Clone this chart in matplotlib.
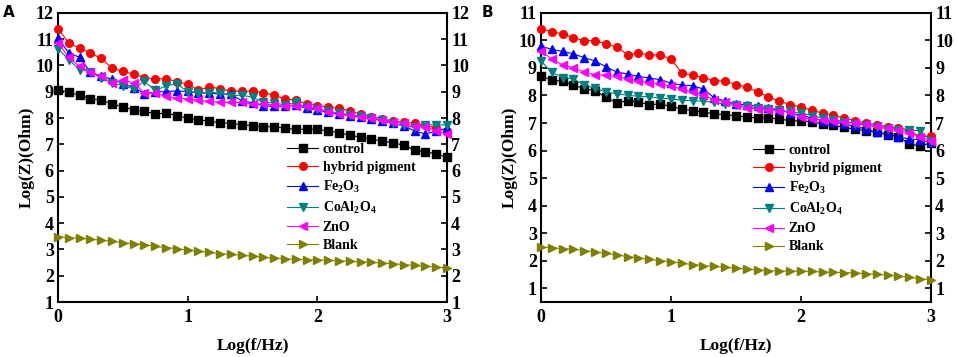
import numpy as np
import matplotlib
matplotlib.use('Agg')
import matplotlib.pyplot as plt

plt.rcParams['font.family'] = 'Liberation Serif'
plt.rcParams['font.weight'] = 'bold'
plt.rcParams['mathtext.default'] = 'regular'

logf = np.linspace(0, 3, 37)

labels = ['control', 'hybrid pigment', 'Fe$_2$O$_3$', 'CoAl$_2$O$_4$', 'ZnO', 'Blank']
colors = ['black', 'red', 'blue', '#008080', 'magenta', '#808000']
markers = ['s', 'o', '^', 'v', '<', '>']

# panel A
control_a = [9.07, 8.98, 8.87, 8.73, 8.68, 8.54, 8.42, 8.31, 8.26, 8.15, 8.19, 8.09, 7.99,
             7.93, 7.88, 7.82, 7.79, 7.75, 7.70, 7.67, 7.67, 7.61, 7.57, 7.57, 7.57, 7.51,
             7.44, 7.35, 7.27, 7.19, 7.13, 7.05, 6.97, 6.78, 6.71, 6.64, 6.50]
hybrid_a = [11.40, 10.85, 10.66, 10.47, 10.27, 9.90, 9.77, 9.67, 9.54, 9.48, 9.50, 9.38, 9.29,
            9.05, 9.19, 9.11, 9.03, 9.01, 9.01, 8.97, 8.86, 8.73, 8.68, 8.54, 8.47, 8.40,
            8.37, 8.27, 8.15, 8.05, 7.97, 7.89, 7.83, 7.80, 7.72, 7.62, 7.52]
fe2o3_a = [11.05, 10.47, 10.31, 9.75, 9.58, 9.48, 9.30, 9.16, 8.93, 8.98, 9.01, 9.03, 9.01,
           8.95, 8.95, 8.91, 8.91, 8.65, 8.58, 8.47, 8.44, 8.46, 8.50, 8.37, 8.31, 8.21,
           8.15, 8.09, 8.03, 7.97, 7.90, 7.80, 7.70, 7.51, 7.39, 7.50, 7.61]
coal2o4_a = [10.64, 10.22, 9.84, 9.75, 9.52, 9.33, 9.23, 9.11, 9.39, 9.05, 9.22, 9.30, 9.00,
             8.97, 8.97, 8.95, 8.85, 8.87, 8.79, 8.60, 8.57, 8.50, 8.59, 8.40, 8.33, 8.25,
             8.18, 8.13, 8.06, 8.00, 7.92, 7.80, 7.72, 7.65, 7.74, 7.74, 7.74]
zno_a = [10.85, 10.31, 9.96, 9.75, 9.58, 9.33, 9.45, 9.33, 8.95, 8.95, 8.82, 8.76, 8.73,
         8.67, 8.63, 8.60, 8.59, 8.59, 8.53, 8.53, 8.50, 8.47, 8.46, 8.44, 8.37, 8.24,
         8.15, 8.13, 8.05, 7.99, 7.93, 7.86, 7.80, 7.70, 7.65, 7.52, 7.38]
blank_a = [3.48, 3.45, 3.43, 3.39, 3.35, 3.31, 3.26, 3.22, 3.18, 3.12, 3.07, 3.03, 2.97,
           2.93, 2.89, 2.84, 2.81, 2.78, 2.74, 2.70, 2.67, 2.65, 2.62, 2.61, 2.60, 2.59,
           2.56, 2.55, 2.53, 2.51, 2.48, 2.46, 2.42, 2.39, 2.37, 2.33, 2.29]

# panel B
control_b = [8.69, 8.57, 8.51, 8.37, 8.25, 8.17, 7.93, 7.73, 7.81, 7.76, 7.67, 7.69, 7.60,
             7.51, 7.45, 7.40, 7.33, 7.30, 7.26, 7.22, 7.18, 7.18, 7.15, 7.08, 7.08, 7.04,
             6.97, 6.91, 6.84, 6.78, 6.72, 6.66, 6.57, 6.51, 6.24, 6.17, 6.28]
hybrid_b = [10.43, 10.31, 10.24, 10.09, 9.99, 9.99, 9.87, 9.75, 9.48, 9.54, 9.48, 9.46, 9.33,
            8.82, 8.73, 8.64, 8.54, 8.51, 8.39, 8.31, 8.13, 7.95, 7.79, 7.67, 7.58, 7.46,
            7.36, 7.28, 7.18, 7.08, 7.00, 6.93, 6.87, 6.82, 6.75, 6.48, 6.54]
fe2o3_b = [9.80, 9.67, 9.60, 9.51, 9.37, 9.25, 9.04, 8.85, 8.78, 8.69, 8.64, 8.57, 8.45,
           8.37, 8.36, 8.23, 7.91, 7.80, 7.68, 7.67, 7.60, 7.55, 7.48, 7.36, 7.28, 7.18,
           7.09, 7.04, 6.97, 6.88, 6.78, 6.66, 6.61, 6.49, 6.43, 6.38, 6.30]
coal2o4_b = [9.25, 8.84, 8.65, 8.60, 8.38, 8.26, 8.13, 8.06, 8.01, 7.97, 7.95, 7.90, 7.88,
             7.83, 7.81, 7.79, 7.75, 7.68, 7.64, 7.60, 7.55, 7.50, 7.47, 7.42, 7.35, 7.27,
             7.18, 7.12, 7.05, 6.98, 6.92, 6.85, 6.80, 6.76, 6.74, 6.72, 6.35]
zno_b = [9.62, 9.32, 9.11, 9.01, 8.85, 8.76, 8.73, 8.69, 8.61, 8.53, 8.47, 8.41, 8.35,
         8.23, 8.11, 8.02, 7.85, 7.77, 7.66, 7.55, 7.51, 7.48, 7.45, 7.40, 7.22, 7.15,
         7.12, 7.09, 7.04, 7.00, 6.97, 6.90, 6.82, 6.73, 6.64, 6.50, 6.35]
blank_b = [2.49, 2.47, 2.44, 2.42, 2.37, 2.32, 2.27, 2.21, 2.15, 2.10, 2.05, 2.00, 1.96,
           1.91, 1.86, 1.82, 1.79, 1.76, 1.73, 1.69, 1.67, 1.64, 1.63, 1.62, 1.62, 1.61,
           1.59, 1.58, 1.57, 1.55, 1.53, 1.51, 1.47, 1.44, 1.40, 1.35, 1.30]

series_a = [control_a, hybrid_a, fe2o3_a, coal2o4_a, zno_a, blank_a]
series_b = [control_b, hybrid_b, fe2o3_b, coal2o4_b, zno_b, blank_b]

fig = plt.figure(figsize=(9.57, 3.57), dpi=100)
ax_a = fig.add_axes([0.0606, 0.154, 0.4065, 0.81])
ax_b = fig.add_axes([0.5653, 0.154, 0.4075, 0.81])


def draw(ax, series, ylim, yticks, leg_anchor):
    for ys, lab, c, m in zip(series, labels, colors, markers):
        ax.plot(logf, ys, color=c, marker=m, markersize=5.5, lw=0.8,
                label=lab, clip_on=False, zorder=3)
    ax.set_xlim(0, 3)
    ax.set_ylim(*ylim)
    ax.set_xticks([0, 1, 2, 3])
    ax.set_yticks(yticks)
    ax.tick_params(direction='in', length=4, width=1.2, labelsize=13,
                   right=True, labelright=True, top=False, pad=3)
    ax.tick_params(axis='x', pad=5)
    for lab in ax.get_xticklabels() + ax.get_yticklabels():
        lab.set_fontweight('bold')
    for s in ax.spines.values():
        s.set_linewidth(1.5)
    ax.set_xlabel('Log(f/Hz)', fontsize=12.5, fontweight='bold', labelpad=9)
    ax.set_ylabel('Log(Z)(Ohm)', fontsize=12.5, fontweight='bold', labelpad=1)
    ax.legend(loc='upper left', bbox_to_anchor=leg_anchor, frameon=False,
              handlelength=2.2, handletextpad=0.35,
              labelspacing=0.36, borderaxespad=0,
              prop={'weight': 'bold', 'size': 10})


draw(ax_a, series_a, (1, 12), range(1, 13), (0.575, 0.57))
draw(ax_b, series_b, (0.5, 11), range(1, 12), (0.53, 0.565))

fig.text(0.003, 0.985, 'A', family='DejaVu Sans', fontsize=11, fontweight='bold', va='top')
fig.text(0.503, 0.985, 'B', family='DejaVu Sans', fontsize=11, fontweight='bold', va='top')

fig.savefig('out.png', dpi=100)
